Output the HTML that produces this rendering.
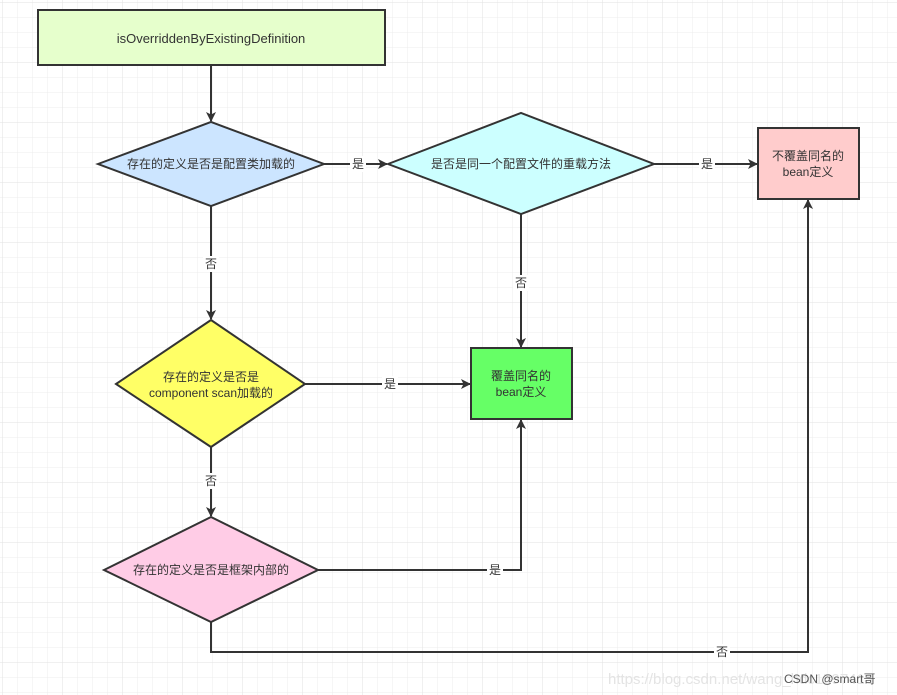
<!DOCTYPE html>
<html><head><meta charset="utf-8"><style>
html,body{margin:0;padding:0;background:#fff;}
svg{display:block;}
text{font-family:"Liberation Sans","Noto Sans CJK SC",sans-serif;font-size:12px;fill:#333;}
</style></head><body>
<svg width="897" height="695" viewBox="0 0 897 695" xmlns="http://www.w3.org/2000/svg">
<defs>
<pattern id="g" x="3" y="3" width="15" height="15" patternUnits="userSpaceOnUse">
<path d="M15 0V15H0" fill="none" stroke="#ececec" stroke-width="1"/>
</pattern>
<pattern id="G" x="3" y="3" width="60" height="60" patternUnits="userSpaceOnUse">
<path d="M60 0V60H0" fill="none" stroke="#e2e2e2" stroke-width="1"/>
</pattern>
<marker id="a" markerWidth="10" markerHeight="10" refX="9" refY="5" orient="auto" markerUnits="userSpaceOnUse">
<path d="M0 0L10 5L0 10L2.5 5Z" fill="#333"/>
</marker>
</defs>
<rect width="897" height="695" fill="url(#g)"/>
<rect width="897" height="695" fill="url(#G)"/>
<g stroke="#333" stroke-width="2" fill="none">
<line x1="211" y1="65" x2="211" y2="121" marker-end="url(#a)"/>
<line x1="324" y1="164" x2="387" y2="164" marker-end="url(#a)"/>
<line x1="654" y1="164" x2="757" y2="164" marker-end="url(#a)"/>
<line x1="521" y1="214" x2="521" y2="347" marker-end="url(#a)"/>
<line x1="211" y1="206" x2="211" y2="319" marker-end="url(#a)"/>
<line x1="305" y1="384" x2="470" y2="384" marker-end="url(#a)"/>
<line x1="211" y1="447" x2="211" y2="516" marker-end="url(#a)"/>
<polyline points="318,570 521,570 521,420" marker-end="url(#a)"/>
<polyline points="211,622 211,652 808,652 808,200" marker-end="url(#a)"/>
</g>
<g stroke="#333" stroke-width="2">
<rect x="38" y="10" width="347" height="55" fill="#e6ffcc"/>
<polygon points="98,164 211,122 324,164 211,206" fill="#cce5ff"/>
<polygon points="388,164 521,113 654,164 521,214" fill="#ccffff"/>
<rect x="758" y="128" width="101" height="71" fill="#ffcccc"/>
<polygon points="116,384 211,320 305,384 211,447" fill="#ffff66"/>
<rect x="471" y="348" width="101" height="71" fill="#66ff66"/>
<polygon points="104,570 211,517 318,570 211,622" fill="#ffcce6"/>
</g>
<g text-anchor="middle">
<text x="211" y="43" style="font-size:13px">isOverriddenByExistingDefinition</text>
<text x="211" y="168">存在的定义是否是配置类加载的</text>
<text x="521" y="168">是否是同一个配置文件的重载方法</text>
<text x="808" y="160">不覆盖同名的</text>
<text x="808" y="176">bean定义</text>
<text x="211" y="381">存在的定义是否是</text>
<text x="211" y="397">component scan加载的</text>
<text x="521" y="380">覆盖同名的</text>
<text x="521" y="396">bean定义</text>
<text x="211" y="574">存在的定义是否是框架内部的</text>
</g>
<g text-anchor="middle">
<rect x="350" y="156" width="16" height="16" fill="#fff"/><text x="358" y="168">是</text>
<rect x="699" y="156" width="16" height="16" fill="#fff"/><text x="707" y="168">是</text>
<rect x="513" y="275" width="16" height="16" fill="#fff"/><text x="521" y="287">否</text>
<rect x="203" y="256" width="16" height="16" fill="#fff"/><text x="211" y="268">否</text>
<rect x="382" y="376" width="16" height="16" fill="#fff"/><text x="390" y="388">是</text>
<rect x="203" y="473" width="16" height="16" fill="#fff"/><text x="211" y="485">否</text>
<rect x="487" y="562" width="16" height="16" fill="#fff"/><text x="495" y="574">是</text>
<rect x="714" y="644" width="16" height="16" fill="#fff"/><text x="722" y="656">否</text>
</g>
<text x="608" y="684" style="font-size:15px;fill:#e4e4e4">https://blog.csdn.net/wang_hdc1597413</text>
<text x="784" y="683" style="font-size:12px;fill:#555">CSDN @smart哥</text>
</svg>
</body></html>
